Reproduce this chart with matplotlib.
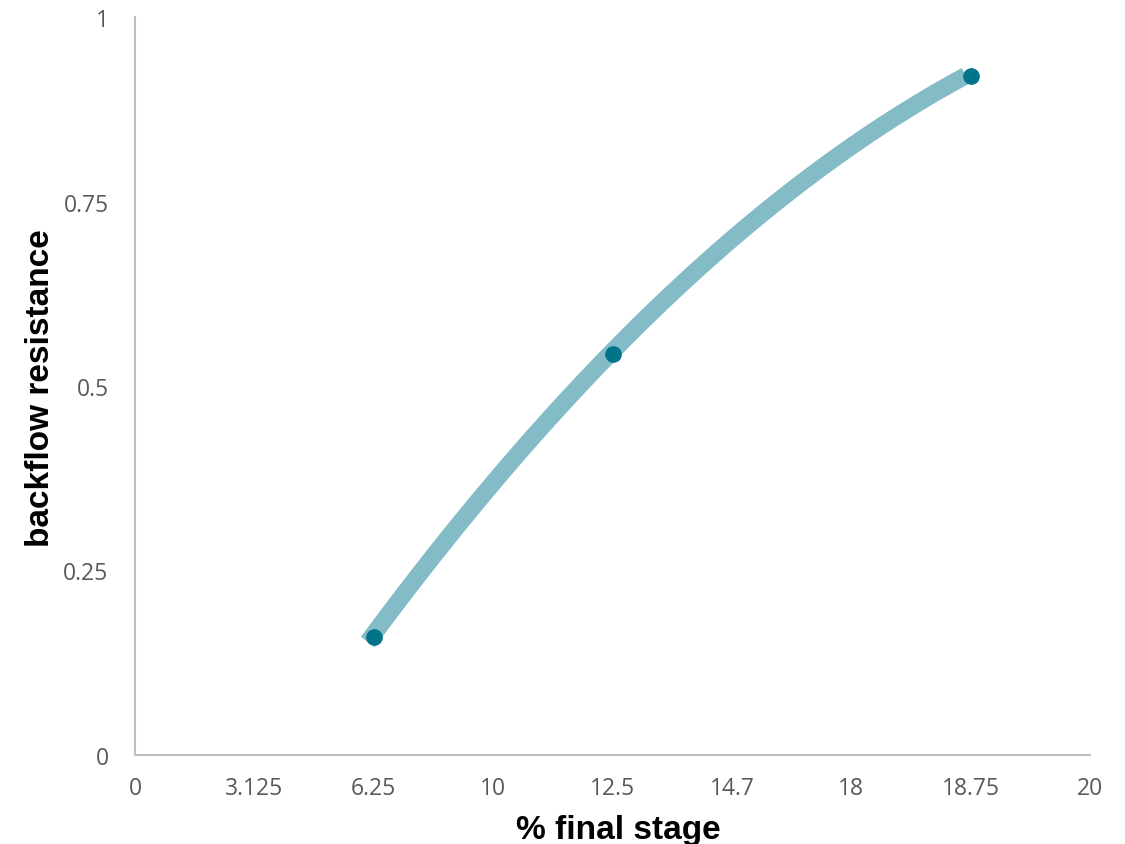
import numpy as np
import matplotlib
matplotlib.use("Agg")
import matplotlib.pyplot as plt

tick_labels = ["0", "3.125", "6.25", "10", "12.5", "14.7", "18", "18.75", "20"]
point_pos = [2, 4, 7]          # category positions of the measured points
point_vals = [0.16, 0.543, 0.92]
y_ticks = [0, 0.25, 0.5, 0.75, 1]
y_tick_labels = ["0", "0.25", "0.5", "0.75", "1"]

fig = plt.figure(figsize=(11.25, 8.45), dpi=100)
ax = fig.add_axes([135/1125, 1-756/845, (1090-135)/1125, (756-18)/845])

# polynomial trendline through the data
coef = np.polyfit(point_pos, point_vals, 2)
xs = np.linspace(1.95, 6.96, 200)
ax.plot(xs, np.polyval(coef, xs) + 0.004, color="#83BBC7", lw=12.5,
        solid_capstyle="butt", zorder=2)
ax.plot(point_pos, point_vals, "o", color="#007589", ms=11, zorder=3)

ax.set_xlim(0, 8)
ax.set_ylim(0, 1)
ax.set_xticks(range(len(tick_labels)))
ax.set_xticklabels(tick_labels)
ax.set_yticks(y_ticks)
ax.set_yticklabels(y_tick_labels)
ax.tick_params(length=0, labelsize=16.5, labelcolor="#595959")
ax.tick_params(axis="x", pad=15)
ax.tick_params(axis="y", pad=19)
for lbl in ax.get_xticklabels() + ax.get_yticklabels():
    lbl.set_family("Open Sans")
for s in ["top", "right"]:
    ax.spines[s].set_visible(False)
for s in ["left", "bottom"]:
    ax.spines[s].set_color("#BFBFBF")
    ax.spines[s].set_linewidth(1.5)

fig.text(618/1125, 1-831/845, "% final stage", ha="center", va="center",
         fontsize=24, family="Liberation Sans", weight="bold", color="black")
fig.text(41/1125, 1-388/845, "backflow resistance", ha="center", va="center",
         rotation=90, fontsize=24, family="Liberation Sans", weight="bold", color="black")

fig.savefig("out.png", dpi=100)
